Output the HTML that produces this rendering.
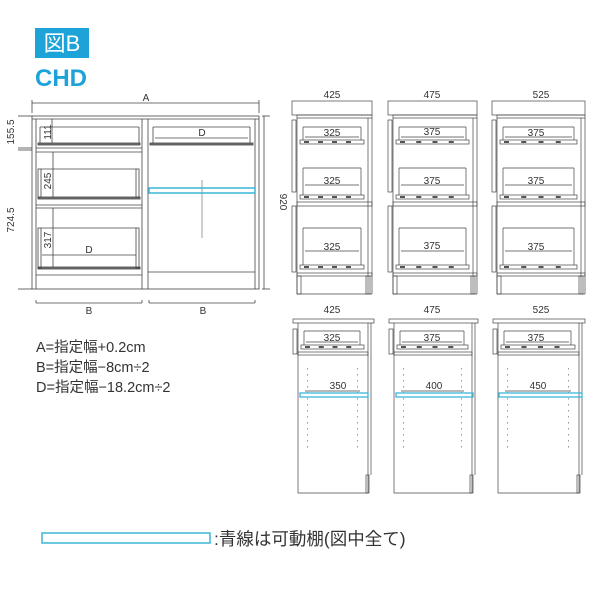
<!DOCTYPE html>
<html><head><meta charset="utf-8"><style>
html,body{margin:0;padding:0;background:#fff;width:600px;height:600px;overflow:hidden}
svg{display:block}
text{font-family:"Liberation Sans","Noto Sans CJK JP",sans-serif;fill:#333}
</style></head><body>
<svg id="s" width="600" height="600" viewBox="0 0 600 600" xmlns="http://www.w3.org/2000/svg">
<rect x="35" y="28" width="54" height="30" fill="#1ea3d9"/>
<text x="62" y="51" font-size="22" text-anchor="middle" style="fill:#fff">図B</text>
<text x="35" y="86" font-size="24" font-weight="bold" style="fill:#1ea3d9">CHD</text>

<g stroke="#444" stroke-width="0.8" fill="none">
<line x1="32" y1="103" x2="259" y2="103"/><line x1="32" y1="100" x2="32" y2="113"/><line x1="259" y1="100" x2="259" y2="113"/>
<rect x="32" y="116" width="227" height="173"/>
<line x1="32" y1="119" x2="259" y2="119"/>
<line x1="36" y1="119" x2="36" y2="289"/><line x1="142" y1="119" x2="142" y2="289"/>
<line x1="148" y1="119" x2="148" y2="289"/><line x1="255" y1="119" x2="255" y2="289"/>
<line x1="36" y1="148" x2="142" y2="148"/><line x1="36" y1="152" x2="142" y2="152"/>
<line x1="36" y1="205" x2="142" y2="205"/><line x1="36" y1="208" x2="142" y2="208"/>
<line x1="36" y1="275" x2="142" y2="275"/>
<line x1="148" y1="272" x2="255" y2="272"/>
<rect x="38" y="143" width="102" height="2" fill="#777"/>
<rect x="38" y="197" width="102" height="2" fill="#777"/>
<rect x="38" y="267" width="102" height="2" fill="#777"/>
<line x1="40" y1="127" x2="139" y2="127"/><line x1="40" y1="127" x2="40" y2="143"/><line x1="139" y1="127" x2="139" y2="143"/>
<rect x="38" y="169" width="3" height="28"/><rect x="136" y="169" width="3" height="28"/><line x1="41" y1="169" x2="136" y2="169"/>
<rect x="38" y="228" width="3" height="40"/><rect x="136" y="228" width="3" height="40"/><line x1="41" y1="228" x2="136" y2="228"/>
<line x1="52" y1="119" x2="52" y2="143"/><line x1="53" y1="152" x2="53" y2="197"/><line x1="53" y1="208" x2="53" y2="267"/>
<line x1="42" y1="255" x2="136" y2="255"/>
<line x1="153" y1="127" x2="250" y2="127"/><line x1="153" y1="127" x2="153" y2="143"/><line x1="250" y1="127" x2="250" y2="143"/>
<rect x="150" y="143" width="103" height="2" fill="#777"/>
<line x1="155" y1="138" x2="248" y2="138"/>
<line x1="202" y1="180" x2="202" y2="238" stroke="#888"/>
<line x1="18" y1="116" x2="32" y2="116"/><line x1="18" y1="148" x2="32" y2="148"/><line x1="18" y1="150" x2="32" y2="150"/><line x1="18" y1="289" x2="32" y2="289"/>
<line x1="262" y1="116" x2="270" y2="116"/><line x1="262" y1="289" x2="270" y2="289"/><line x1="264" y1="116" x2="264" y2="289"/>
<line x1="36" y1="300" x2="36" y2="303"/><line x1="36" y1="303" x2="142" y2="303"/><line x1="142" y1="300" x2="142" y2="303"/>
<line x1="149" y1="300" x2="149" y2="303"/><line x1="149" y1="303" x2="255" y2="303"/><line x1="255" y1="300" x2="255" y2="303"/>
</g>
<rect x="149" y="188" width="106" height="5" fill="none" stroke="#3bb6d8" stroke-width="1.5"/>
<text x="146" y="101" font-size="10" text-anchor="middle">A</text>
<text x="89" y="314" font-size="10" text-anchor="middle">B</text>
<text x="203" y="314" font-size="10" text-anchor="middle">B</text>
<text x="202" y="136" font-size="10" text-anchor="middle">D</text>
<text x="89" y="253" font-size="10" text-anchor="middle">D</text>
<text transform="translate(14,132) rotate(-90)" font-size="10" text-anchor="middle">155.5</text>
<text transform="translate(14,220) rotate(-90)" font-size="10" text-anchor="middle">724.5</text>
<text transform="translate(280,202) rotate(90)" font-size="10" text-anchor="middle">920</text>
<text transform="translate(51,132) rotate(-90)" font-size="10" text-anchor="middle">111</text>
<text transform="translate(51,181) rotate(-90)" font-size="10" text-anchor="middle">245</text>
<text transform="translate(51,240) rotate(-90)" font-size="10" text-anchor="middle">317</text>

<g id="cabs" stroke="#444" stroke-width="0.7" fill="none"></g>

<text x="332" y="98" font-size="10" text-anchor="middle">425</text>
<text x="432" y="98" font-size="10" text-anchor="middle">475</text>
<text x="541" y="98" font-size="10" text-anchor="middle">525</text>
<text x="332" y="136" font-size="10" text-anchor="middle">325</text>
<text x="332" y="184" font-size="10" text-anchor="middle">325</text>
<text x="332" y="250" font-size="10" text-anchor="middle">325</text>
<text x="432" y="135" font-size="10" text-anchor="middle">375</text>
<text x="432" y="184" font-size="10" text-anchor="middle">375</text>
<text x="432" y="249" font-size="10" text-anchor="middle">375</text>
<text x="536" y="136" font-size="10" text-anchor="middle">375</text>
<text x="536" y="184" font-size="10" text-anchor="middle">375</text>
<text x="536" y="250" font-size="10" text-anchor="middle">375</text>

<text x="332" y="313" font-size="10" text-anchor="middle">425</text>
<text x="432" y="313" font-size="10" text-anchor="middle">475</text>
<text x="541" y="313" font-size="10" text-anchor="middle">525</text>
<text x="332" y="341" font-size="10" text-anchor="middle">325</text>
<text x="432" y="341" font-size="10" text-anchor="middle">375</text>
<text x="536" y="341" font-size="10" text-anchor="middle">375</text>
<text x="338" y="389" font-size="10" text-anchor="middle">350</text>
<text x="434" y="389" font-size="10" text-anchor="middle">400</text>
<text x="538" y="389" font-size="10" text-anchor="middle">450</text>

<text x="36" y="352" font-size="14.5">A=指定幅+0.2cm</text>
<text x="36" y="372" font-size="14.5">B=指定幅−8cm÷2</text>
<text x="36" y="392" font-size="14.5">D=指定幅−18.2cm÷2</text>

<rect x="42" y="533" width="168" height="10" fill="none" stroke="#3bb6d8" stroke-width="1.5"/>
<text x="214" y="545" font-size="17.5">:青線は可動棚(図中全て)</text>
</svg>
<script>
var g=document.getElementById('cabs'),h='';
function L(a,b,c,d,ex){h+='<line x1="'+a+'" y1="'+b+'" x2="'+c+'" y2="'+d+'"'+(ex||'')+'/>';}
function R(x,y,w,hh,ex){h+='<rect x="'+x+'" y="'+y+'" width="'+w+'" height="'+hh+'"'+(ex||'')+'/>';}
function rail(x1,x2,y){R(x1,y,x2-x1,4);var n=Math.round((x2-x1)/18);for(var i=0;i<n;i++){R(x1+4+i*(x2-x1-8)/n,y+1,5,2,' fill="#555" stroke="none"');}}
var tops=[[292,80],[388,89],[492,93]];
tops.forEach(function(t){var x=t[0],w=t[1],r=x+w;
 R(x,101,w,14);R(x+5,115,w-5,3);
 L(x+5,118,x+5,294);L(r-4,118,r-4,294);L(r,118,r,294);
 R(x,120,4,72);R(x,206,4,66);
 L(x+11,127,r-11,127);L(x+11,127,x+11,140);L(r-11,127,r-11,140);L(x+13,137,r-13,137);rail(x+8,r-8,140);
 L(x+11,168,r-11,168);L(x+11,168,x+11,195);L(r-11,168,r-11,195);L(x+13,185,r-13,185);rail(x+8,r-8,195);
 R(x+5,202,w-5,4);
 L(x+11,228,r-11,228);L(x+11,228,x+11,265);L(r-11,228,r-11,265);L(x+13,251,r-13,251);rail(x+8,r-8,265);
 R(x+5,273,w-5,3);L(x+5,294,r,294);R(x+5,276,4,18);R(r-6,276,4,18);
});
var bots=[[293,81],[389,89],[493,92]];
bots.forEach(function(t){var x=t[0],w=t[1],r=x+w;
 R(x,319,w,4);L(x+5,323,x+5,493);L(x+5,493,r-6,493);L(r-6,323,r-6,493);L(r-3,323,r-3,475);
 R(x,329,4,25);
 L(x+11,331,r-14,331);L(x+11,331,x+11,345);L(r-14,331,r-14,345);L(x+13,342,r-16,342);rail(x+8,r-10,345);
 R(x+5,352,w-11,3);
 for(var y=368;y<=448;y+=6){R(x+14,y,0.6,1.5,' fill="#555" stroke="none"');R(r-17,y,0.6,1.5,' fill="#555" stroke="none"');}
 L(x+12,391,r-14,391);
 R(r-8,475,3,18);
});
g.innerHTML=h;
var s=document.getElementById('s');
[[300,393,68],[396,393,77],[499,393,83]].forEach(function(b){var e=document.createElementNS('http://www.w3.org/2000/svg','rect');e.setAttribute('x',b[0]);e.setAttribute('y',b[1]);e.setAttribute('width',b[2]);e.setAttribute('height',4);e.setAttribute('fill','none');e.setAttribute('stroke','#3bb6d8');e.setAttribute('stroke-width','1.3');s.appendChild(e);});
</script>
</body></html>
